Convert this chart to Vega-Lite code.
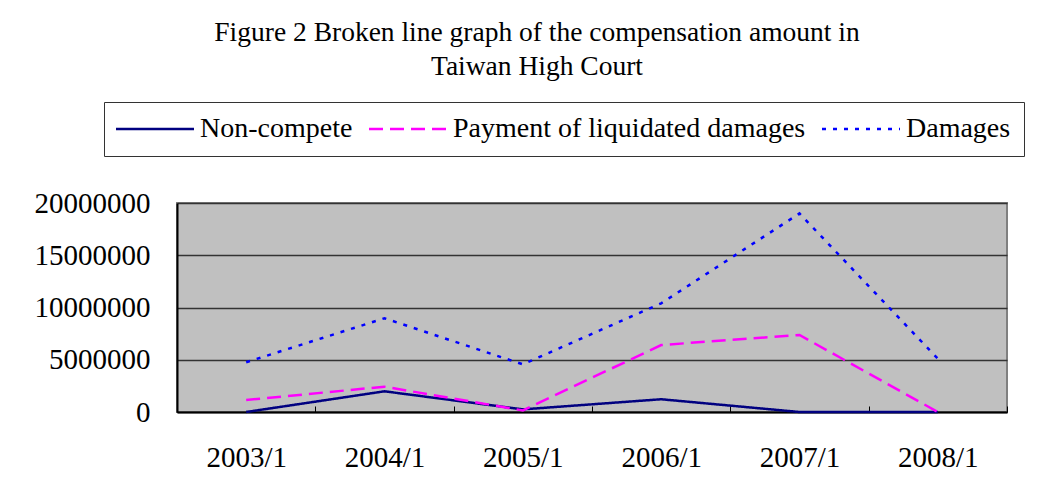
{
  "$schema": "https://vega.github.io/schema/vega-lite/v6.json",
  "width": 830,
  "height": 209,
  "autosize": {"type": "none"},
  "padding": {"left": 177, "top": 203, "right": 35, "bottom": 91},
  "background": "white",
  "title": {
    "text": ["Figure 2 Broken line graph of the compensation amount in", "Taiwan High Court"],
    "font": "Liberation Serif",
    "fontSize": 27.5,
    "fontWeight": "normal",
    "lineHeight": 34,
    "color": "black",
    "anchor": "middle",
    "dx": -55,
    "dy": -17
  },
  "data": {
    "values": [
      {"year": "2003/1", "series": "Non-compete", "value": 0},
      {"year": "2004/1", "series": "Non-compete", "value": 1980000},
      {"year": "2005/1", "series": "Non-compete", "value": 250000},
      {"year": "2006/1", "series": "Non-compete", "value": 1220000},
      {"year": "2007/1", "series": "Non-compete", "value": 0},
      {"year": "2008/1", "series": "Non-compete", "value": 0},
      {"year": "2003/1", "series": "Payment of liquidated damages", "value": 1150000},
      {"year": "2004/1", "series": "Payment of liquidated damages", "value": 2420000},
      {"year": "2005/1", "series": "Payment of liquidated damages", "value": 150000},
      {"year": "2006/1", "series": "Payment of liquidated damages", "value": 6410000},
      {"year": "2007/1", "series": "Payment of liquidated damages", "value": 7370000},
      {"year": "2008/1", "series": "Payment of liquidated damages", "value": 0},
      {"year": "2003/1", "series": "Damages", "value": 4760000},
      {"year": "2004/1", "series": "Damages", "value": 8970000},
      {"year": "2005/1", "series": "Damages", "value": 4560000},
      {"year": "2006/1", "series": "Damages", "value": 10400000},
      {"year": "2007/1", "series": "Damages", "value": 19000000},
      {"year": "2008/1", "series": "Damages", "value": 5100000}
    ]
  },
  "mark": {"type": "line", "strokeWidth": 2.5, "clip": false},
  "encoding": {
    "x": {
      "field": "year",
      "type": "ordinal",
      "bandPosition": 0.5,
      "scale": {"type": "band", "paddingInner": 0, "paddingOuter": 0},
      "axis": {
        "title": null,
        "tickBand": "extent",
        "ticks": true,
        "tickSize": -6,
        "tickColor": "black",
        "tickWidth": 1,
        "domainColor": "black",
        "domainWidth": 2,
        "labelFont": "Liberation Serif",
        "labelFontSize": 29,
        "labelColor": "black",
        "labelPadding": 37,
        "labelAngle": 0,
        "grid": false
      }
    },
    "y": {
      "field": "value",
      "type": "quantitative",
      "scale": {"domain": [0, 20000000], "nice": false},
      "axis": {
        "title": null,
        "values": [0, 5000000, 10000000, 15000000, 20000000],
        "format": "d",
        "grid": true,
        "gridColor": "#333333",
        "gridWidth": 1.5,
        "ticks": false,
        "domainColor": "black",
        "domainWidth": 2,
        "labelFont": "Liberation Serif",
        "labelFontSize": 29,
        "labelColor": "black",
        "labelPadding": 27
      }
    },
    "color": {
      "field": "series",
      "type": "nominal",
      "title": null,
      "scale": {
        "domain": ["Non-compete", "Payment of liquidated damages", "Damages"],
        "range": ["#000080", "#FF00FF", "#0000FF"]
      }
    },
    "strokeDash": {
      "field": "series",
      "type": "nominal",
      "title": null,
      "scale": {
        "domain": ["Non-compete", "Payment of liquidated damages", "Damages"],
        "range": [[1, 0], [14, 7], [4, 7]]
      }
    }
  },
  "config": {
    "view": {"fill": "#C0C0C0", "stroke": "#808080", "strokeWidth": 2},
    "legend": {
      "orient": "none",
      "legendX": -73,
      "legendY": -101,
      "direction": "horizontal",
      "strokeColor": "#333333",
      "fillColor": "white",
      "padding": 13,
      "labelFont": "Liberation Serif",
      "labelFontSize": 28,
      "labelColor": "black",
      "labelOffset": 55,
      "labelLimit": 0,
      "columnPadding": 11,
      "symbolType": "M-1.5,0H6.3",
      "symbolSize": 400,
      "symbolStrokeWidth": 2.5
    }
  }
}
